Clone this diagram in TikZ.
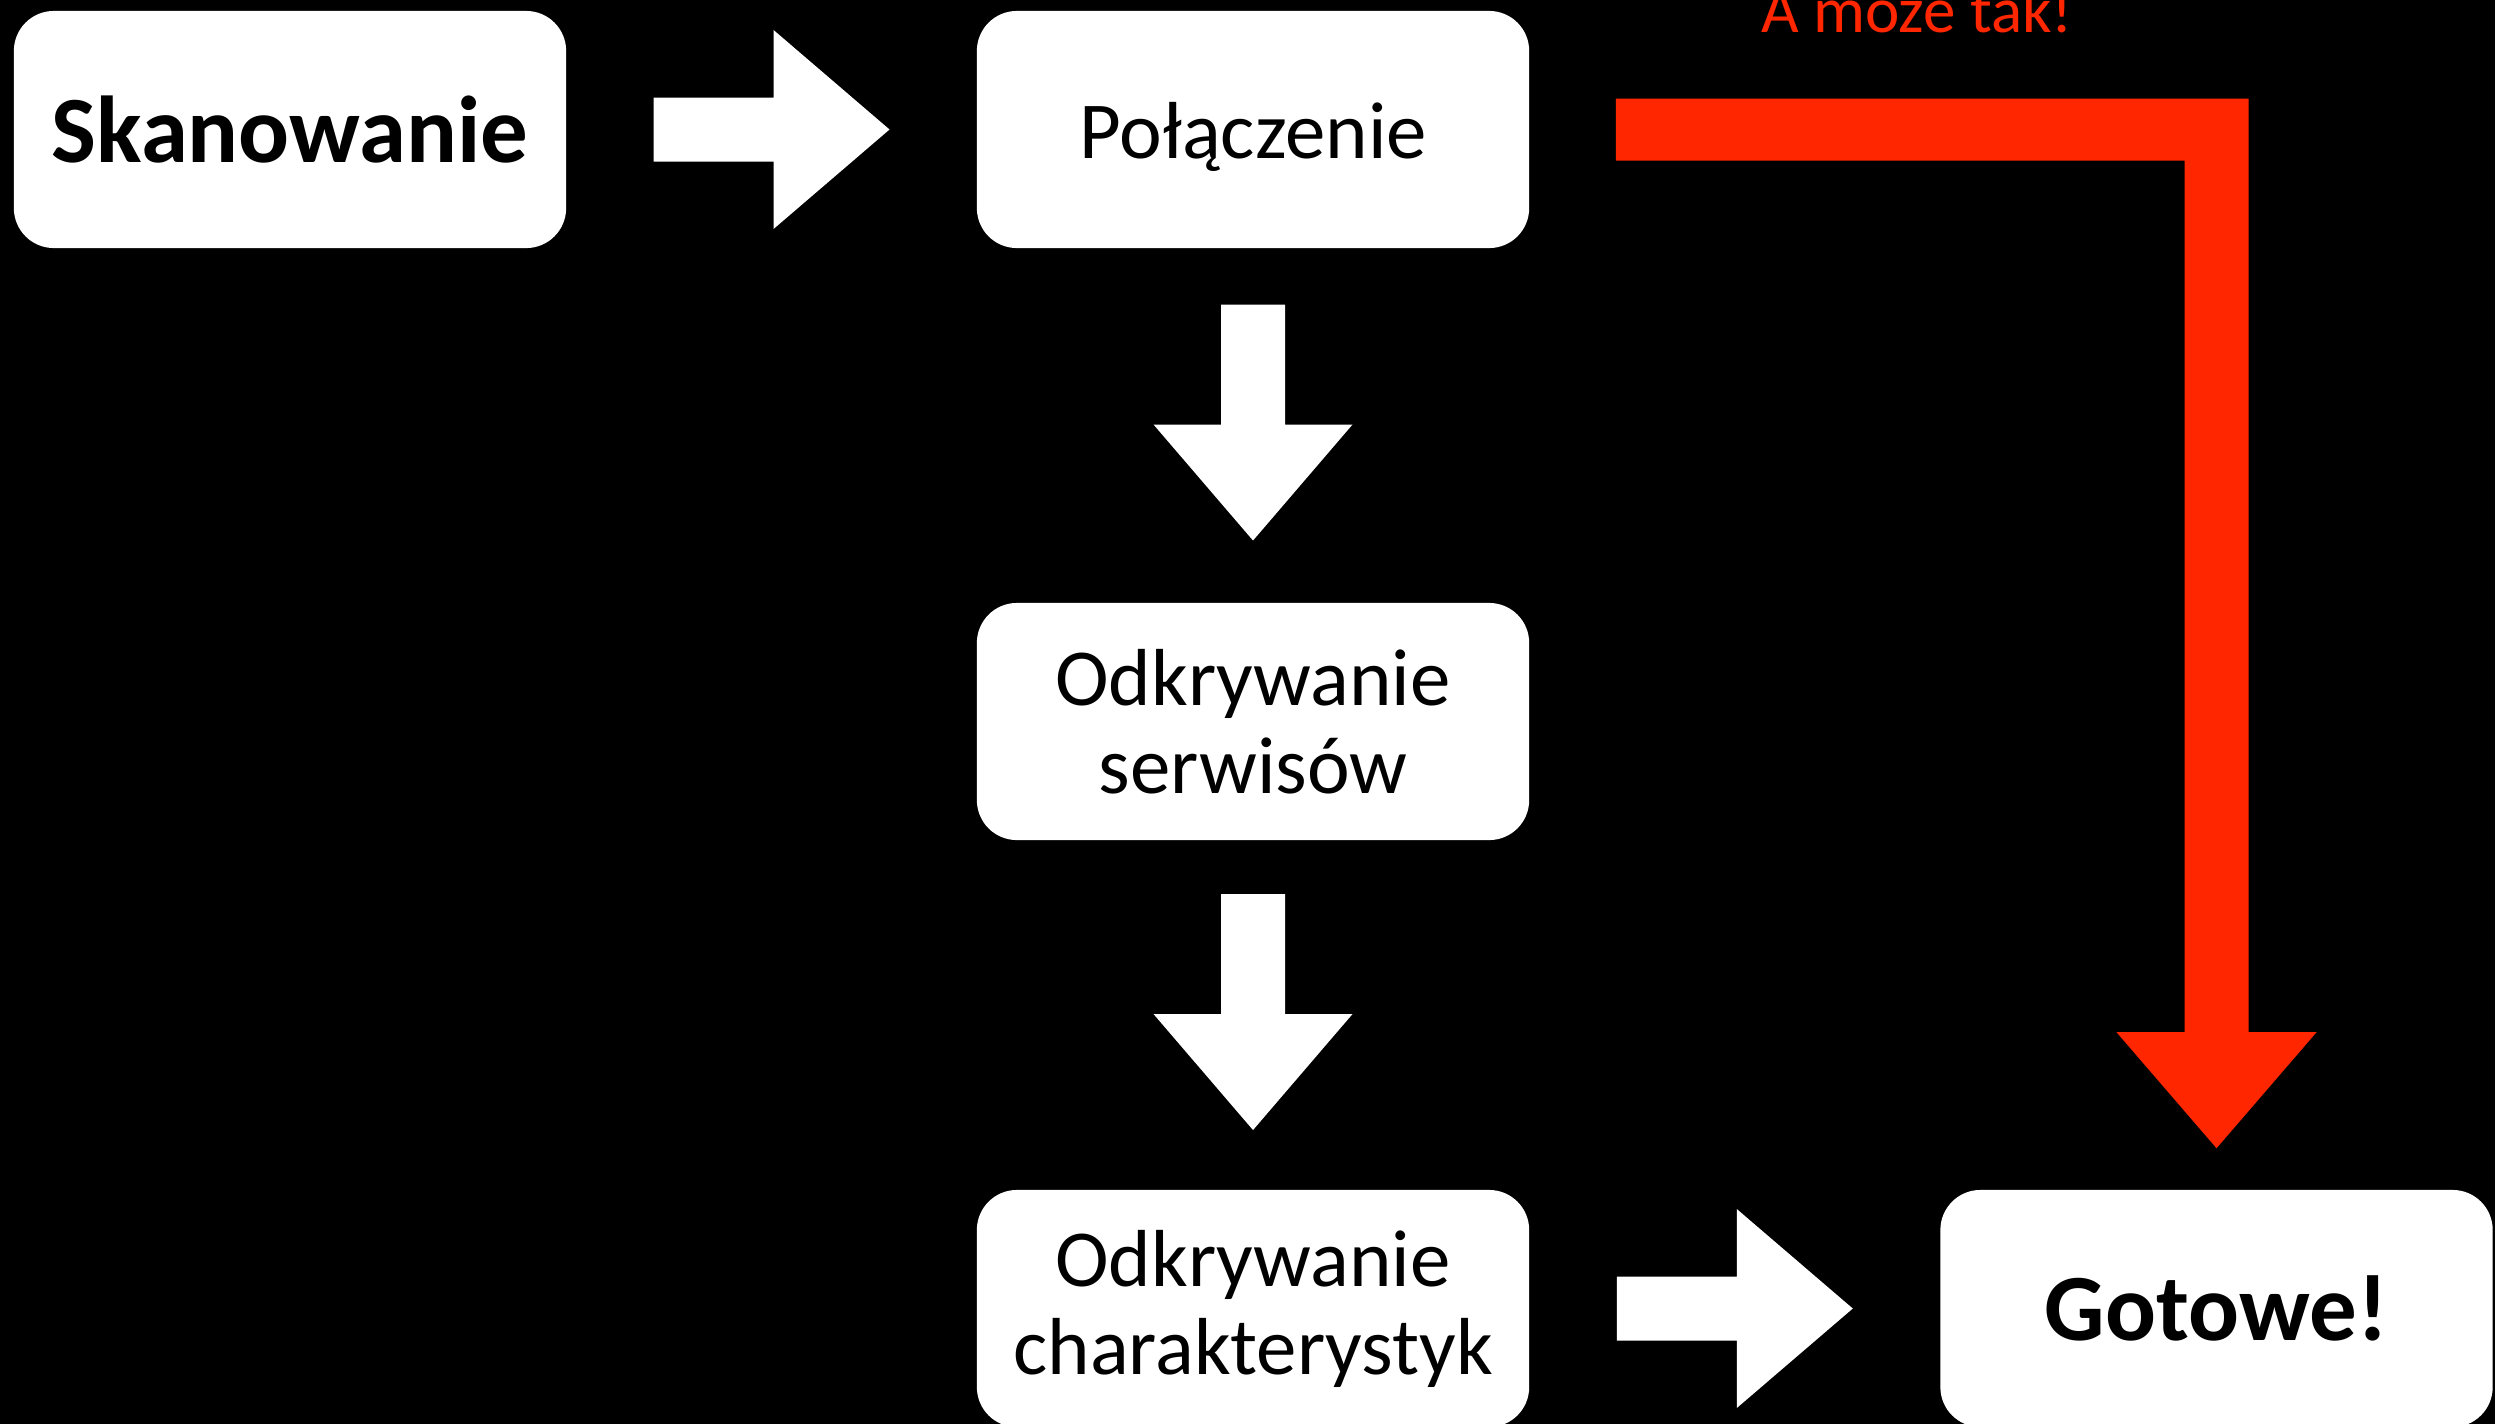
\documentclass[tikz,border=0pt]{standalone}
\usepackage{fontspec}
\setmainfont{Carlito}
\usetikzlibrary{calc}
\definecolor{kred}{RGB}{255,38,0}
\tikzset{
  box/.style={fill=white, text=black, rounded corners=0.4cm, minimum width=5.52cm, minimum height=2.37cm, inner sep=0pt, align=center, font=\fontsize{23}{25}\selectfont},
  boldbox/.style={box, font=\fontsize{27}{30}\selectfont\bfseries},
  barrow/.pic={\fill[white] (-118,-32) -- (2,-32) -- (2,-99.5) -- (118,0) -- (2,99.5) -- (2,32) -- (-118,32) -- cycle;}
}
\begin{document}
\begin{tikzpicture}[x=0.01cm, y=-0.01cm]
\useasboundingbox (0,0) rectangle (2495,1424);
\fill[black] (0,0) rectangle (2495,1424);
\node[boldbox] (skan) at (290,129.5) {Skanowanie};
\node[box] (pol) at (1253,129.5) {\raisebox{-0.07cm}[\height][\depth]{Połączenie}};
\node[box] (serw) at (1253,721.5) {Odkrywanie\\serwisów};
\node[box] (char) at (1253,1308.5) {Odkrywanie\\charakterystyk};
\node[boldbox] (got) at (2216.5,1308.5) {Gotowe!};
\pic at ($(skan.east)!0.5!(pol.west)$) {barrow};
\pic[rotate=-90] at ($(pol.south)!0.5!(serw.north)+(0,-3)$) {barrow};
\pic[rotate=-90] at ($(serw.south)!0.5!(char.north)+(0,-3)$) {barrow};
\pic at ($(char.east)!0.5!(got.west)$) {barrow};
\coordinate (rs) at ($(pol.east)+(86,0)$);
\coordinate (rt) at ($(got.north)+(0,-41)$);
\fill[kred] ($(rs)+(0,-31)$) -- ($(rt|-rs)+(32,-31)$) -- ($(rt)+(32,-116)$) -- ($(rt)+(100,-116)$) -- (rt) -- ($(rt)+(-100,-116)$) -- ($(rt)+(-32,-116)$) -- ($(rt|-rs)+(-32,31)$) -- ($(rs)+(0,31)$) -- cycle;
\node[text=kred, anchor=base, font=\fontsize{18.5}{20}\selectfont, inner sep=0pt] (label) at (1917,32) {A może tak!};
\end{tikzpicture}
\end{document}
